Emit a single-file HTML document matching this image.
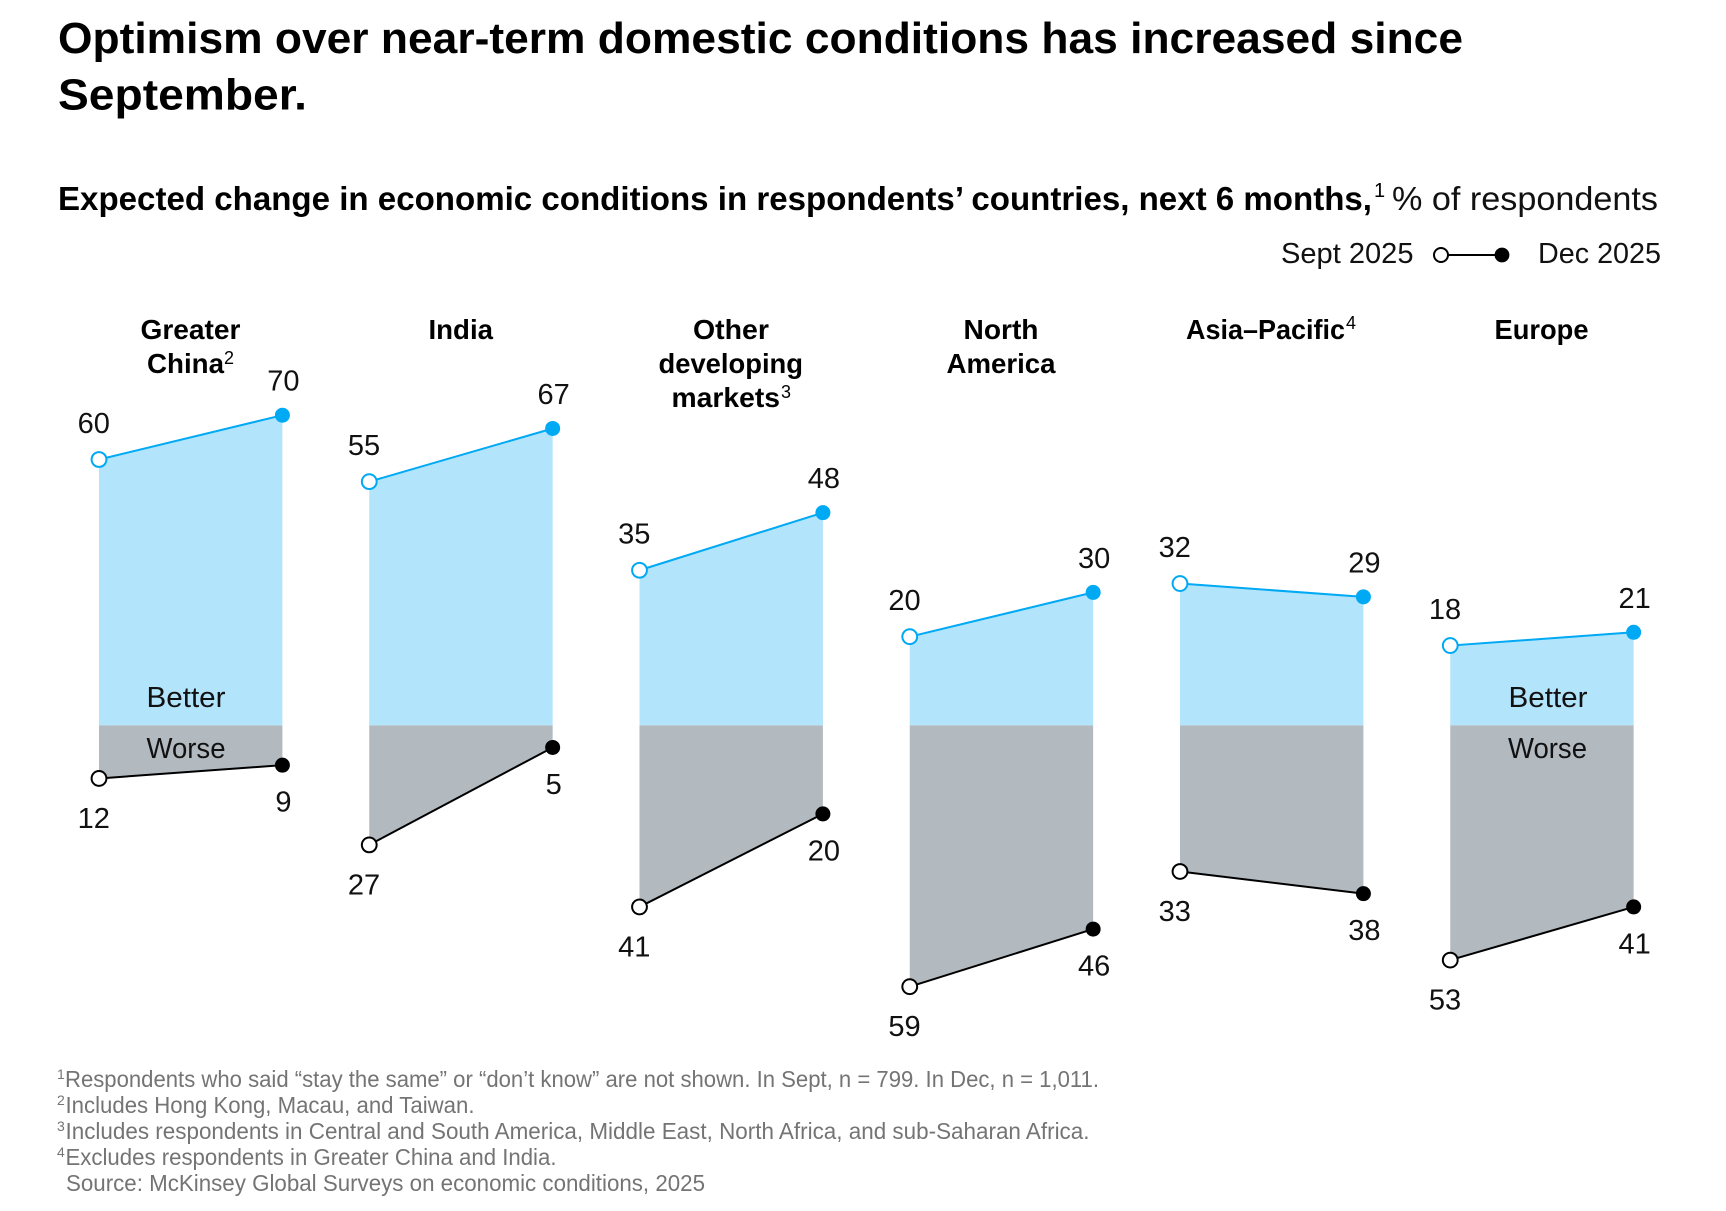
<!DOCTYPE html>
<html lang="en">
<head>
<meta charset="utf-8">
<title>Optimism over near-term domestic conditions</title>
<style>
html,body{margin:0;padding:0;background:#fff;}
svg{display:block;font-family:"Liberation Sans",Arial,sans-serif;}
.h{font-size:44px;font-weight:700;fill:#000;}
.st{font-size:33px;font-weight:700;fill:#000;}
.reg{font-size:33px;fill:#111;}
.lg{font-size:29px;fill:#111;}
.pt{font-size:28px;font-weight:700;fill:#000;}
.sup{font-size:18px;fill:#000;}
.zone{font-size:29px;fill:#111;}
.val{font-size:29px;fill:#111;text-anchor:middle;}
.fn{font-size:23px;fill:#747474;}
.fs{font-size:14px;fill:#747474;}
</style>
</head>
<body>
<svg id="chart" xmlns="http://www.w3.org/2000/svg" width="1726" height="1211" viewBox="0 0 1726 1211">
  <rect x="0" y="0" width="1726" height="1211" fill="#fff"/>

  <text class="h" x="58" y="53" textLength="1405" lengthAdjust="spacingAndGlyphs">Optimism over near-term domestic conditions has increased since</text>
  <text class="h" x="58" y="109.5" textLength="249" lengthAdjust="spacingAndGlyphs">September.</text>

  <text class="st" x="58" y="210" textLength="1314" lengthAdjust="spacingAndGlyphs">Expected change in economic conditions in respondents’ countries, next 6 months,</text>
  <text x="1374" y="197" font-size="20" fill="#000">1</text>
  <text class="reg" x="1392" y="210" textLength="266" lengthAdjust="spacingAndGlyphs">% of respondents</text>

  <g>
    <text class="lg" x="1281" y="263" textLength="132.5" lengthAdjust="spacingAndGlyphs">Sept 2025</text>
    <line x1="1441" y1="255" x2="1502" y2="255" stroke="#000" stroke-width="2"/>
    <circle cx="1441" cy="255" r="7" fill="#fff" stroke="#000" stroke-width="2"/>
    <circle cx="1502" cy="255" r="7.4" fill="#000"/>
    <text class="lg" x="1538" y="263" textLength="123" lengthAdjust="spacingAndGlyphs">Dec 2025</text>
  </g>

  <g id="panel-titles">
    <text class="pt" x="140.5" y="339" textLength="100" lengthAdjust="spacingAndGlyphs">Greater</text>
    <text class="pt" x="147" y="373" textLength="77" lengthAdjust="spacingAndGlyphs">China</text>
    <text class="sup" x="224" y="364">2</text>
    <text class="pt" x="428.5" y="339" textLength="64.5" lengthAdjust="spacingAndGlyphs">India</text>
    <text class="pt" x="693" y="339" textLength="76" lengthAdjust="spacingAndGlyphs">Other</text>
    <text class="pt" x="658.5" y="373" textLength="144.5" lengthAdjust="spacingAndGlyphs">developing</text>
    <text class="pt" x="671.5" y="407" textLength="108.5" lengthAdjust="spacingAndGlyphs">markets</text>
    <text class="sup" x="781" y="398">3</text>
    <text class="pt" x="963.5" y="339" textLength="75" lengthAdjust="spacingAndGlyphs">North</text>
    <text class="pt" x="946.5" y="373" textLength="109" lengthAdjust="spacingAndGlyphs">America</text>
    <text class="pt" x="1186" y="339" textLength="159" lengthAdjust="spacingAndGlyphs">Asia–Pacific</text>
    <text class="sup" x="1346" y="329">4</text>
    <text class="pt" x="1494.5" y="339" textLength="94" lengthAdjust="spacingAndGlyphs">Europe</text>
  </g>

  <g id="panels"></g>

  <g>
    <text class="zone" x="146.5" y="707" textLength="79" lengthAdjust="spacingAndGlyphs">Better</text>
    <text class="zone" x="146.5" y="758" textLength="79" lengthAdjust="spacingAndGlyphs">Worse</text>
    <text class="zone" x="1508.5" y="707" textLength="79" lengthAdjust="spacingAndGlyphs">Better</text>
    <text class="zone" x="1508" y="758" textLength="79" lengthAdjust="spacingAndGlyphs">Worse</text>
  </g>

  <g>
    <text class="fs" x="57" y="1079">1</text>
    <text class="fn" x="65" y="1087" textLength="1034" lengthAdjust="spacingAndGlyphs">Respondents who said “stay the same” or “don’t know” are not shown. In Sept, n = 799. In Dec, n = 1,011.</text>
    <text class="fs" x="57" y="1105">2</text>
    <text class="fn" x="65.5" y="1113" textLength="409" lengthAdjust="spacingAndGlyphs">Includes Hong Kong, Macau, and Taiwan.</text>
    <text class="fs" x="57" y="1131">3</text>
    <text class="fn" x="65.5" y="1139" textLength="1024" lengthAdjust="spacingAndGlyphs">Includes respondents in Central and South America, Middle East, North Africa, and sub-Saharan Africa.</text>
    <text class="fs" x="57" y="1157">4</text>
    <text class="fn" x="65.5" y="1165" textLength="491" lengthAdjust="spacingAndGlyphs">Excludes respondents in Greater China and India.</text>
    <text class="fn" x="66" y="1191" textLength="639" lengthAdjust="spacingAndGlyphs">Source: McKinsey Global Surveys on economic conditions, 2025</text>
  </g>
</svg>

<script>
const categories = ['greater-china', 'india', 'other-developing-markets', 'north-america', 'asia-pacific', 'europe'];
const betterSept = [60, 55, 35, 20, 32, 18];
const betterDec = [70, 67, 48, 30, 29, 21];
const worseSept = [12, 27, 41, 59, 33, 53];
const worseDec = [9, 5, 20, 46, 38, 41];

const SVG_NS = 'http://www.w3.org/2000/svg';
const BASELINE_Y = 725.3;
const UNIT_PX = 4.43;
const PANEL_LEFT = 99;
const PANEL_STEP = 270.25;
const PANEL_WIDTH = 183.4;
const BLUE = '#00a9f4';
const LIGHT_BLUE = '#b2e4fc';
const GREY = '#b2bac0';
const BLACK = '#000000';

function yBetter(v) { return BASELINE_Y - v * UNIT_PX; }
function yWorse(v) { return BASELINE_Y + v * UNIT_PX; }
function xSept(i) { return PANEL_LEFT + i * PANEL_STEP; }
function xDec(i) { return xSept(i) + PANEL_WIDTH; }

function make(tag, attrs) {
  const el = document.createElementNS(SVG_NS, tag);
  Object.keys(attrs).forEach(function (k) { el.setAttribute(k, attrs[k]); });
  return el;
}

function drawSeries(group, i, key, sv, dv, yFn, areaColor, lineColor, side) {
  const x1 = xSept(i);
  const x2 = xDec(i);
  const y1 = yFn(sv);
  const y2 = yFn(dv);

  const area = make('polygon', { points: x1 + ',' + BASELINE_Y + ' ' + x1 + ',' + y1 + ' ' + x2 + ',' + y2 + ' ' + x2 + ',' + BASELINE_Y, fill: areaColor });
  
  
  group.appendChild(area);

  const line = make('line', { x1: x1, y1: y1, x2: x2, y2: y2, stroke: lineColor, 'stroke-width': 2 });
  
  
  group.appendChild(line);

  const open = make('circle', { cx: x1, cy: y1, r: 7.4, fill: '#fff', stroke: lineColor, 'stroke-width': 2 });
  
  
  group.appendChild(open);

  const closed = make('circle', { cx: x2, cy: y2, r: 7.5, fill: lineColor });
  
  
  group.appendChild(closed);

  const above = side === 'better';
  const leftLabel = make('text', { class: 'val', x: x1 - 5.2, y: y1 + (above ? -26.6 : 49.4) });
  leftLabel.textContent = String(sv);
  
  
  group.appendChild(leftLabel);

  const rightLabel = make('text', { class: 'val', x: x2 + 1, y: y2 + (above ? -24.5 : 46.5) });
  rightLabel.textContent = String(dv);
  
  
  group.appendChild(rightLabel);
}

const panelsRoot = document.getElementById('panels');
categories.forEach(function (key, i) {
  const g = make('g', {});
  
  
  drawSeries(g, i, key, worseSept[i], worseDec[i], yWorse, GREY, BLACK, 'worse');
  drawSeries(g, i, key, betterSept[i], betterDec[i], yBetter, LIGHT_BLUE, BLUE, 'better');
  panelsRoot.appendChild(g);
});
</script>
</body>
</html>
